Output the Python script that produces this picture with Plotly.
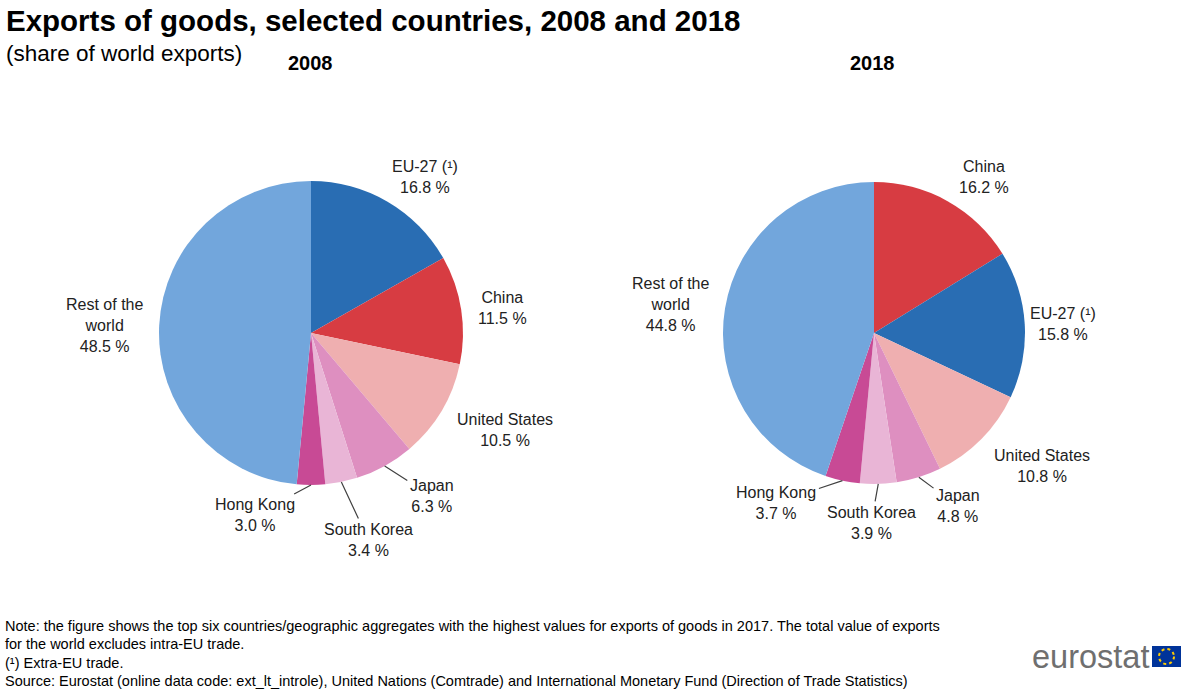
import math
import plotly.graph_objects as go

LABELS_2008 = ["EU-27 (¹)", "China", "United States", "Japan", "South Korea", "Hong Kong", "Rest of the<br>world"]
VALUES_2008 = [16.8, 11.5, 10.5, 6.3, 3.4, 3.0, 48.5]

LABELS_2018 = ["China", "EU-27 (¹)", "United States", "Japan", "South Korea", "Hong Kong", "Rest of the<br>world"]
VALUES_2018 = [16.2, 15.8, 10.8, 4.8, 3.9, 3.7, 44.8]

COLORS = {
    "EU-27 (¹)": "#296db3",
    "China": "#d73c42",
    "United States": "#efafb0",
    "Japan": "#de8fc0",
    "South Korea": "#e9b5d6",
    "Hong Kong": "#c84a95",
    "Rest of the<br>world": "#72a6dc",
}

# label offsets (px) from the slice's outer edge, and whether a leader line is drawn
OFFSETS_2008 = [(37, -25), (41, -2), (63, 19), (47, 30), (27, 58), (-56, 30), (-55, 0)]
LEADER_2008 = [False, False, False, True, True, True, False]
OFFSETS_2018 = [(36, -24), (38, 0), (61, 27), (39, 29), (-7, 39), (-66, 22), (-55, -4)]
LEADER_2018 = [False, False, False, True, True, True, False]

FONT = "Liberation Sans, Arial, sans-serif"
W, H = 1200, 691


def pie_domain(cx, cy, r):
    # pixel centre/radius -> paper domain
    return dict(
        x=[(cx - r) / W, (cx + r) / W],
        y=[(H - cy - r) / H, (H - cy + r) / H],
    )


def make_pie(labels, values, domain):
    return go.Pie(
        labels=labels,
        values=values,
        sort=False,
        direction="clockwise",
        rotation=0,
        domain=domain,
        marker=dict(colors=[COLORS[l] for l in labels], line=dict(width=0)),
        textinfo="none",
        showlegend=False,
        hoverinfo="label+value",
    )


def pie_labels(labels, values, cx, cy, r, offsets, leaders):
    # one annotation per slice, anchored on the outer edge at the slice's mid-angle
    out = []
    total = sum(values)
    cum = 0
    for lab, val, (ox, oy), lead in zip(labels, values, offsets, leaders):
        theta = 2 * math.pi * (cum + val / 2) / total
        cum += val
        px = cx + r * math.sin(theta)
        py = cy - r * math.cos(theta)
        out.append(dict(
            text=f"{lab}<br>{val:.1f} %",
            x=px / W, y=1 - py / H, xref="paper", yref="paper",
            showarrow=True, ax=ox, ay=oy, axref="pixel", ayref="pixel",
            arrowhead=0, arrowwidth=1.2, standoff=0, startstandoff=1,
            arrowcolor="#404040" if lead else "rgba(0,0,0,0)",
            font=dict(family=FONT, size=16, color="#222222"),
            align="center",
        ))
    return out


fig = go.Figure()
fig.add_trace(make_pie(LABELS_2008, VALUES_2008, pie_domain(311, 333, 152)))
fig.add_trace(make_pie(LABELS_2018, VALUES_2018, pie_domain(874, 333, 151)))

notes = [
    "Note: the figure shows the top six countries/geographic aggregates with the highest values for exports of goods in 2017. The total value of exports",
    "for the world excludes intra-EU trade.",
    "(¹) Extra-EU trade.",
    "Source: Eurostat (online data code: ext_lt_introle), United Nations (Comtrade) and International Monetary Fund (Direction of Trade Statistics)",
]

annotations = [
    dict(text="<b>Exports of goods, selected countries, 2008 and 2018</b>", x=4 / W, y=1 - 20 / H,
         font=dict(size=29.5, family=FONT, color="#000000")),
    dict(text="(share of world exports)", x=4 / W, y=1 - 53 / H,
         font=dict(size=22.5, family=FONT, color="#000000")),
    dict(text="<b>2008</b>", x=310 / W, y=1 - 63 / H, xanchor="center",
         font=dict(size=20, family=FONT, color="#000000")),
    dict(text="<b>2018</b>", x=872 / W, y=1 - 63 / H, xanchor="center",
         font=dict(size=20, family=FONT, color="#000000")),
    dict(text="eurostat", x=1151 / W, y=1 - 657 / H, xanchor="right",
         font=dict(size=32.5, family=FONT, color="#6f6f6f")),
]
for i, line in enumerate(notes):
    annotations.append(dict(text=line, x=3 / W, y=1 - (626 + i * 18.3) / H,
                            font=dict(size=14.5, family=FONT, color="#000000")))
for a in annotations:
    a.setdefault("xanchor", "left")
    a.update(xref="paper", yref="paper", yanchor="middle", showarrow=False)

annotations += pie_labels(LABELS_2008, VALUES_2008, 311, 333, 152, OFFSETS_2008, LEADER_2008)
annotations += pie_labels(LABELS_2018, VALUES_2018, 874, 333, 151, OFFSETS_2018, LEADER_2018)

shapes = [
    dict(type="rect", xref="paper", yref="paper",
         x0=1152 / W, x1=1181 / W, y0=1 - 667 / H, y1=1 - 646 / H,
         fillcolor="#003399", line=dict(width=0)),
    dict(type="circle", xref="paper", yref="paper",
         x0=1159 / W, x1=1174 / W, y0=1 - 664 / H, y1=1 - 649 / H,
         line=dict(color="#ffcc00", width=2, dash="dot")),
]

fig.update_layout(
    width=W,
    height=H,
    margin=dict(l=0, r=0, t=0, b=0),
    paper_bgcolor="white",
    plot_bgcolor="white",
    font=dict(family=FONT),
    annotations=annotations,
    shapes=shapes,
)

fig.write_html(
    "out.html",
    config={"displayModeBar": False},
    post_script="document.body.style.margin='0';",
)
